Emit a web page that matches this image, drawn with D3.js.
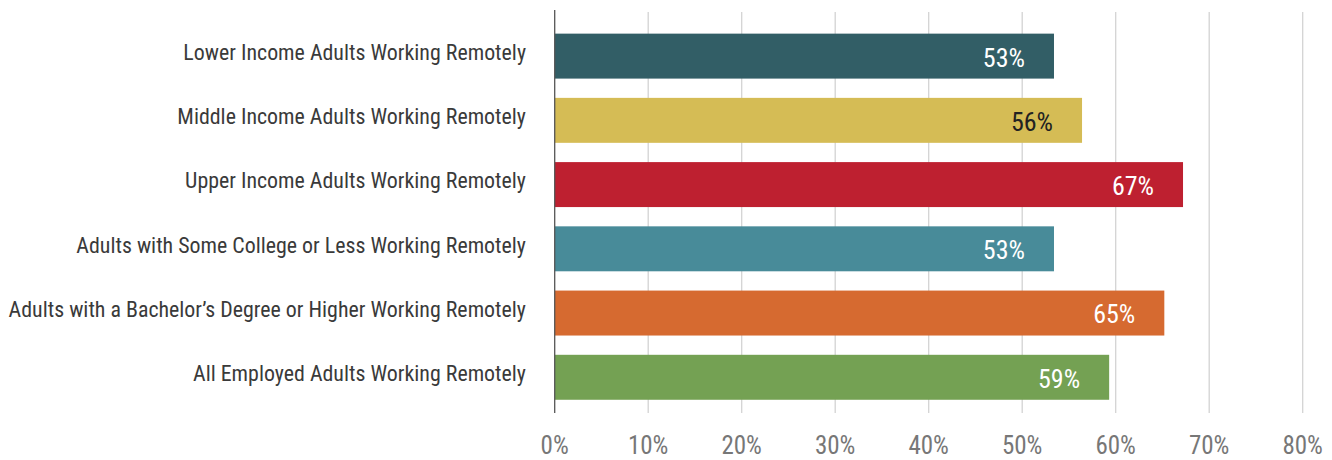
<!DOCTYPE html>
<html>
<head>
<meta charset="utf-8">
<script src="https://cdn.jsdelivr.net/npm/d3@7"></script>
<style>
  body { margin: 0; background: #fff; }
  svg text { font-family: "Roboto Condensed", Roboto, sans-serif; }
</style>
</head>
<body>
<div id="d3-container"></div>
<script>
/**
 * DATA
 * */
const categories = [
  "Lower Income Adults Working Remotely",
  "Middle Income Adults Working Remotely",
  "Upper Income Adults Working Remotely",
  "Adults with Some College or Less Working Remotely",
  "Adults with a Bachelor\u2019s Degree or Higher Working Remotely",
  "All Employed Adults Working Remotely"
];
const values = [53.4, 56.4, 67.2, 53.4, 65.2, 59.3];
const valueLabels = ["53%", "56%", "67%", "53%", "65%", "59%"];
const barColors = ["#325e66", "#d5bc55", "#be2030", "#488b99", "#d66a30", "#74a153"];
const labelColors = ["#fff", "#222", "#fff", "#fff", "#fff", "#fff"];
const xTicks = [0, 10, 20, 30, 40, 50, 60, 70, 80];

/**
 * CONSTANTS
 * */
const width = 1332, height = 460;
const x0 = 554.7, x1 = 1302.7;

const svg = d3.select("#d3-container")
  .append("svg")
  .attr("width", width)
  .attr("height", height);

const x = d3.scaleLinear([0, 80], [x0, x1]);
const y = d3.scaleBand(categories, [24, 409.4]).paddingInner(0.3).paddingOuter(0.15);

// gridlines
svg.selectAll("line.grid")
  .data(xTicks.slice(1))
  .join("line")
  .attr("class", "grid")
  .attr("x1", d => x(d)).attr("x2", d => x(d))
  .attr("y1", 12).attr("y2", 413)
  .attr("stroke", "#d3d3d3")
  .attr("stroke-width", 1.3);

// bars
svg.selectAll("rect.bar")
  .data(values)
  .join("rect")
  .attr("class", "bar")
  .attr("x", x(0))
  .attr("y", (d, i) => y(categories[i]))
  .attr("width", d => x(d) - x(0))
  .attr("height", y.bandwidth())
  .attr("fill", (d, i) => barColors[i]);

// axis line at 0
svg.append("line")
  .attr("x1", x(0)).attr("x2", x(0))
  .attr("y1", 10).attr("y2", 413)
  .attr("stroke", "#555")
  .attr("stroke-width", 1.3);

// category labels
svg.selectAll("text.cat")
  .data(categories)
  .join("text")
  .attr("class", "cat")
  .attr("x", 526)
  .attr("y", d => y(d) + y.bandwidth() / 2 + 3.7)
  .attr("text-anchor", "end")
  .attr("fill", "#3a3a3a")
  .style("font-size", "21.9px")
  .text(d => d);

// value labels
svg.selectAll("text.val")
  .data(values)
  .join("text")
  .attr("class", "val")
  .attr("x", d => x(d) - 29)
  .attr("y", (d, i) => y(categories[i]) + y.bandwidth() / 2 + 10.4)
  .attr("text-anchor", "end")
  .attr("fill", (d, i) => labelColors[i])
  .style("font-size", "26px")
  .text((d, i) => valueLabels[i]);

// x tick labels
svg.selectAll("text.tick")
  .data(xTicks)
  .join("text")
  .attr("class", "tick")
  .attr("x", d => x(d))
  .attr("y", 454)
  .attr("text-anchor", "middle")
  .attr("fill", "#777")
  .style("font-size", "25px")
  .text(d => d + "%");
</script>
</body>
</html>
